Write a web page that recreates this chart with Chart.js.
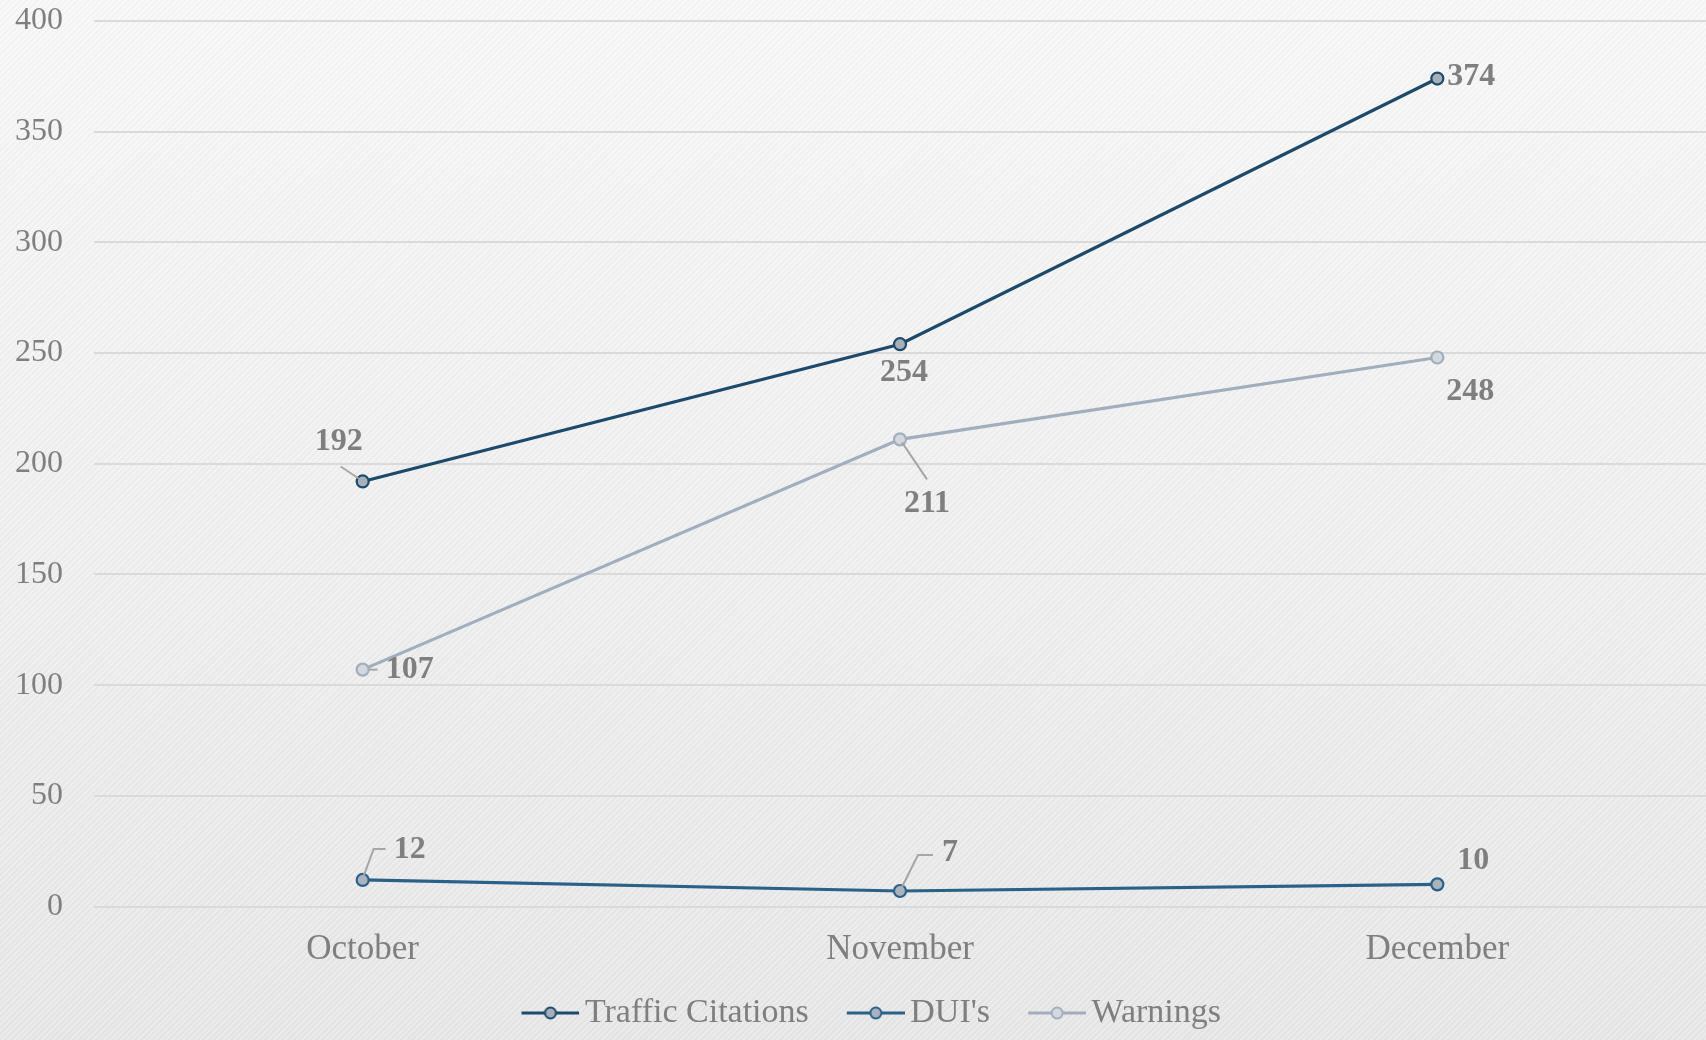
<!DOCTYPE html>
<html>
<head>
<meta charset="utf-8">
<script src="https://cdn.jsdelivr.net/npm/chart.js@4.4.0/dist/chart.umd.min.js"></script>
<style>
  html, body { margin: 0; padding: 0; }
  body {
    width: 1706px; height: 1040px; overflow: hidden;
    background:
      repeating-linear-gradient(135deg, rgba(255,255,255,0.22) 0px, rgba(255,255,255,0.22) 2px, rgba(0,0,0,0.014) 2px, rgba(0,0,0,0.014) 4px),
      linear-gradient(180deg, #f7f7f7 0%, #efefef 50%, #e6e6e6 100%);
  }
  #wrap { position: relative; width: 1706px; height: 1040px; }
</style>
</head>
<body>
<div id="wrap"><canvas id="chart"></canvas></div>
<script>
const months = ['October', 'November', 'December'];
const trafficCitations = [192, 254, 374];
const duis = [12, 7, 10];
const warnings = [107, 211, 248];
const yTicks = [0, 50, 100, 150, 200, 250, 300, 350, 400];

const FONT = "'Liberation Serif', 'DejaVu Serif', serif";
const TEXT_GRAY = '#7f7f7f';

// where each value label sits relative to its point, plus optional leader line
const labelPlacement = [
    [ {dx: -24, dy: -40, leader: [[-22, -15], [-4, -3]]},
      {dx: 4, dy: 29},
      {dx: 34, dy: -2} ],
    [ {dx: 47, dy: -30, leader: [[1, -4], [11, -31], [23, -31]]},
      {dx: 50, dy: -38, leader: [[2, -4], [18, -36], [33, -36]]},
      {dx: 36, dy: -24} ],
    [ {dx: 47, dy: 0, leader: [[6, 0], [15, 0]]},
      {dx: 27, dy: 64, leader: [[2, 3], [27, 40]]},
      {dx: 33, dy: 34} ]
];

function legendMarker(lineColor, fill, border) {
    // line sample with a small circle, offset right so the text sits close
    const c = document.createElement('canvas');
    c.width = 80; c.height = 16;
    const g = c.getContext('2d');
    g.strokeStyle = lineColor;
    g.lineWidth = 3;
    g.beginPath();
    g.moveTo(22, 8);
    g.lineTo(80, 8);
    g.stroke();
    g.beginPath();
    g.arc(51, 8, 5.5, 0, Math.PI * 2);
    g.fillStyle = fill;
    g.fill();
    g.lineWidth = 2;
    g.strokeStyle = border;
    g.stroke();
    return c;
}

const valueLabels = {
    id: 'valueLabels',
    afterLayout(chart) {
        // the legend row carries trailing padding, nudge it back to visual centre
        chart.legend.left += 26;
    },
    afterDatasetsDraw(chart) {
        const ctx = chart.ctx;
        ctx.save();
        chart.data.datasets.forEach((ds, di) => {
            const meta = chart.getDatasetMeta(di);
            meta.data.forEach((pt, i) => {
                const p = labelPlacement[di][i];
                if (p.leader) {
                    ctx.strokeStyle = '#a6a6a6';
                    ctx.lineWidth = 2;
                    ctx.beginPath();
                    p.leader.forEach((q, k) => {
                        if (k === 0) ctx.moveTo(pt.x + q[0], pt.y + q[1]);
                        else ctx.lineTo(pt.x + q[0], pt.y + q[1]);
                    });
                    ctx.stroke();
                }
                ctx.font = 'bold 32px ' + FONT;
                ctx.fillStyle = TEXT_GRAY;
                ctx.textAlign = 'center';
                ctx.textBaseline = 'middle';
                ctx.fillText(String(ds.data[i]), pt.x + p.dx, pt.y + p.dy);
            });
        });
        ctx.restore();
    }
};

const seriesStyle = [
    {label: 'Traffic Citations', data: trafficCitations, line: '#1d4a6a', fill: '#a7afb8', border: '#1d4a6a'},
    {label: "DUI's", data: duis, line: '#2a6189', fill: '#a9b3bd', border: '#2a6189'},
    {label: 'Warnings', data: warnings, line: '#a2aebd', fill: '#d3d8de', border: '#a2aebd'}
];

new Chart(document.getElementById('chart'), {
    type: 'line',
    data: {
        labels: months,
        datasets: seriesStyle.map(s => ({
            label: s.label,
            data: s.data,
            borderColor: s.line,
            borderWidth: 3.2,
            pointRadius: 6,
            pointBorderWidth: 2.2,
            pointBackgroundColor: s.fill,
            pointBorderColor: s.border,
            tension: 0,
            legendMarker: legendMarker(s.line, s.fill, s.border)
        }))
    },
    options: {
        responsive: true,
        maintainAspectRatio: false,
        animation: false,
        layout: {autoPadding: false, padding: {top: 21, right: 0, bottom: 0, left: 0}},
        plugins: {
            tooltip: {enabled: false},
            legend: {
                position: 'bottom',
                labels: {
                    usePointStyle: true,
                    pointStyleWidth: 57,
                    padding: 27.5,
                    color: TEXT_GRAY,
                    font: {family: FONT, size: 34},
                    generateLabels(chart) {
                        const items = Chart.defaults.plugins.legend.labels.generateLabels(chart);
                        items.forEach(it => {
                            it.pointStyle = chart.data.datasets[it.datasetIndex].legendMarker;
                        });
                        return items;
                    }
                }
            }
        },
        scales: {
            x: {
                offset: true,
                grid: {display: false, drawTicks: false},
                border: {display: false},
                ticks: {color: TEXT_GRAY, font: {family: FONT, size: 35}, padding: 22},
                afterFit(scale) { scale.height = 62; scale.paddingLeft = 0; scale.paddingRight = 0; }
            },
            y: {
                min: 0,
                max: 400,
                afterBuildTicks(scale) { scale.ticks = yTicks.map(v => ({value: v})); },
                grid: {color: '#dadada', lineWidth: 2, drawTicks: false},
                border: {display: false},
                ticks: {color: TEXT_GRAY, font: {family: FONT, size: 32}, padding: 31},
                afterFit(scale) { scale.width = 94; scale.paddingTop = 0; scale.paddingBottom = 0; }
            }
        }
    },
    plugins: [valueLabels]
});
</script>
</body>
</html>
